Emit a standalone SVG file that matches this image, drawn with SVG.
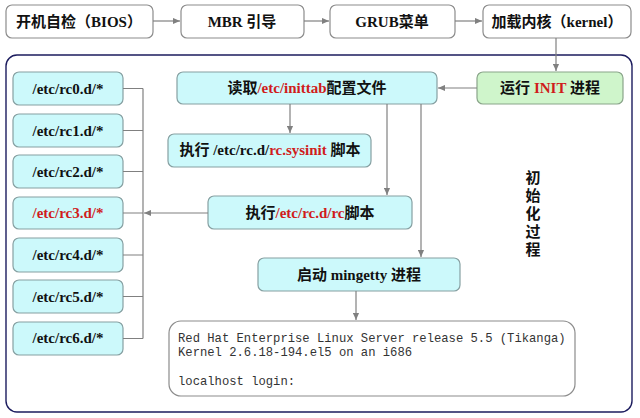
<svg xmlns="http://www.w3.org/2000/svg" width="640" height="418" viewBox="0 0 640 418">
<defs>
<marker id="ah" viewBox="0 0 8 8" refX="8" refY="4" markerWidth="7" markerHeight="7" orient="auto" markerUnits="userSpaceOnUse">
<path d="M0,0.5 L8,4 L0,7.5 Z" fill="#808080"/>
</marker>
<style>
.top{fill:#ffffff;stroke:#8c8c8c;stroke-width:1.2}
.cy{fill:#ccf9fb;stroke:#86a0a2;stroke-width:1.2}
.gr{fill:#cff5cb;stroke:#8aa58a;stroke-width:1.2}
.t{font-family:"Liberation Serif","Noto Sans CJK SC",serif;font-weight:bold;font-size:15px;fill:#111;text-anchor:middle}
.r{fill:#d01c1c}
.mono{font-family:"Liberation Mono","DejaVu Sans Mono",monospace;font-size:12.2px;fill:#333}
.ln{stroke:#808080;stroke-width:1.2;fill:none}
.ar{stroke:#808080;stroke-width:1.2;fill:none;marker-end:url(#ah)}
</style>
</defs>
<rect width="640" height="418" fill="#ffffff"/>
<g id="outer">
<rect x="6" y="55" width="626" height="357" rx="11" fill="none" stroke="#1c1c5e" stroke-width="1.4"/>
</g>
<g id="bios"><rect class="top" x="6" y="5" width="147" height="33" rx="6"/><text class="t" x="79" y="27">开机自检（BIOS）</text></g>
<g id="mbr"><rect class="top" x="181" y="5" width="123" height="33" rx="6"/><text class="t" x="242" y="27">MBR 引导</text></g>
<g id="grub"><rect class="top" x="330" y="5" width="125" height="33" rx="6"/><text class="t" x="392" y="27">GRUB菜单</text></g>
<g id="kernel"><rect class="top" x="483" y="5" width="148" height="33" rx="6"/><text class="t" x="557" y="27">加载内核（kernel）</text></g>
<g id="init"><rect class="gr" x="477" y="72" width="146" height="32" rx="6"/><text class="t" x="550" y="93">运行 <tspan class="r">INIT</tspan> 进程</text></g>
<g id="inittab"><rect class="cy" x="177" y="72" width="260" height="32" rx="6"/><text class="t" x="307" y="93">读取<tspan class="r">/etc/inittab</tspan>配置文件</text></g>
<g id="sysinit"><rect class="cy" x="168" y="134" width="203" height="33" rx="6"/><text class="t" x="270" y="155">执行 /etc/rc.d/<tspan class="r">rc.sysinit</tspan> 脚本</text></g>
<g id="rc"><rect class="cy" x="208" y="196" width="204" height="33" rx="6"/><text class="t" x="310" y="218">执行<tspan class="r">/etc/rc.d/rc</tspan>脚本</text></g>
<g id="mingetty"><rect class="cy" x="258" y="258" width="202" height="33" rx="6"/><text class="t" x="359" y="280">启动 mingetty 进程</text></g>
<g id="rc0"><rect class="cy" x="13" y="72" width="110" height="33" rx="6"/><text class="t" x="68" y="94">/etc/rc0.d/*</text></g>
<g id="rc1"><rect class="cy" x="13" y="114" width="110" height="33" rx="6"/><text class="t" x="68" y="136">/etc/rc1.d/*</text></g>
<g id="rc2"><rect class="cy" x="13" y="155" width="110" height="33" rx="6"/><text class="t" x="68" y="177">/etc/rc2.d/*</text></g>
<g id="rc3"><rect class="cy" x="13" y="197" width="110" height="32" rx="6"/><text class="t r" x="68" y="218">/etc/rc3.d/*</text></g>
<g id="rc4"><rect class="cy" x="13" y="238" width="110" height="34" rx="6"/><text class="t" x="68" y="260">/etc/rc4.d/*</text></g>
<g id="rc5"><rect class="cy" x="13" y="280" width="110" height="33" rx="6"/><text class="t" x="68" y="302">/etc/rc5.d/*</text></g>
<g id="rc6"><rect class="cy" x="13" y="322" width="110" height="33" rx="6"/><text class="t" x="68" y="343">/etc/rc6.d/*</text></g>
<g id="login">
<rect x="169" y="321" width="406" height="75" rx="12" fill="#ffffff" stroke="#8c8c8c" stroke-width="1.2"/>
<text class="mono" x="178" y="342">Red Hat Enterprise Linux Server release 5.5 (Tikanga)</text>
<text class="mono" x="178" y="356">Kernel 2.6.18-194.el5 on an i686</text>
<text class="mono" x="178" y="385">localhost login:</text>
</g>
<g id="label">
<text class="t" x="533" y="183">初</text>
<text class="t" x="533" y="201">始</text>
<text class="t" x="533" y="219">化</text>
<text class="t" x="533" y="237">过</text>
<text class="t" x="533" y="255">程</text>
</g>
<g id="connectors">
<line class="ar" x1="153" y1="21" x2="180" y2="21"/>
<line class="ar" x1="304" y1="21" x2="329" y2="21"/>
<line class="ar" x1="455" y1="21" x2="482" y2="21"/>
<line class="ar" x1="556" y1="38" x2="556" y2="71"/>
<line class="ar" x1="477" y1="88" x2="438" y2="88"/>
<line class="ar" x1="290" y1="104" x2="290" y2="133"/>
<line class="ar" x1="387" y1="104" x2="387" y2="195"/>
<line class="ar" x1="421" y1="104" x2="421" y2="257"/>
<line class="ar" x1="356" y1="291" x2="356" y2="320"/>
<line class="ar" x1="208" y1="213" x2="144" y2="213"/>
<path class="ln" d="M143,88.5 V338.5 M123,88.5 H143 M123,130.5 H143 M123,171.5 H143 M123,213 H143 M123,255 H143 M123,296.5 H143 M123,338.5 H143"/>
</g>
</svg>
